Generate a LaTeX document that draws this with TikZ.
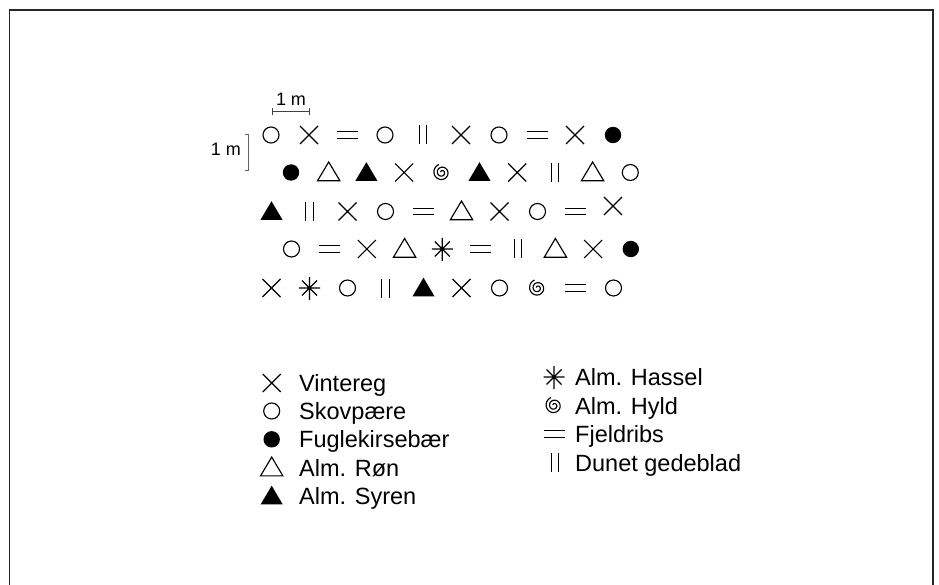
\documentclass[tikz,border=0pt]{standalone}
\usepackage{fontspec}
\setmainfont{Liberation Sans}
\begin{document}
\begin{tikzpicture}[x=1pt,y=-1pt,
  sym/.style={line width=1.15pt, line cap=butt},
  lbl/.style={font=\fontsize{23.5}{28}\selectfont, anchor=base west, inner sep=0pt},
  scl/.style={font=\fontsize{18}{21}\selectfont, inner sep=0pt},
  bar/.style={line width=1pt, black!75},
  frame/.style={line width=1.5pt, black!85},
  pics/kryds/.style={code={\draw[sym] (-9,-9)--(9,9) (-9,9)--(9,-9);}},
  pics/ring/.style={code={\draw[sym] (0,0) circle[radius=8];}},
  pics/prik/.style={code={\fill (0,0) circle[radius=8.2];}},
  pics/trekant/.style={code={\draw[sym, line join=miter] (-11.2,8.3)--(11.2,8.3)--(0,-10.5)--cycle;}},
  pics/fyldtrekant/.style={code={\fill (-11,8.3)--(11,8.3)--(0,-10.3)--cycle;}},
  pics/lig/.style={code={\draw[sym] (-10.5,-3.2)--(10.5,-3.2) (-10.5,3.2)--(10.5,3.2);}},
  pics/streger/.style={code={\draw[sym] (-3.6,-9.5)--(-3.6,9.5) (3.6,-9.5)--(3.6,9.5);}},
  pics/stjerne/.style={code={\draw[sym] (0,-11)--(0,12) (-10.5,0)--(10.5,0) (-7.5,-7.5)--(7.5,7.5) (-7.5,7.5)--(7.5,-7.5);}},
  pics/spiral/.style={code={\draw[line width=1.15pt] plot[domain=0:770,samples=140,smooth] ({(1.2+\x/770*7.3)*cos(\x+200)},{(1.2+\x/770*7.3)*sin(\x+200)});}},
]
\useasboundingbox (0,0) rectangle (939,585);
\draw[frame] (9.5,600)--(9.5,10)--(933,10)--(933,600);

% scale bars
\coordinate (h1) at (272.7,111.7);
\coordinate (h2) at (309.3,111.7);
\draw[bar] (h1)--(h2) ([yshift=-3.5pt]h1)--([yshift=3.5pt]h1) ([yshift=-3.5pt]h2)--([yshift=3.5pt]h2);
\node[scl] (mtop) at (291,99) {1 m};
\coordinate (v1) at (248.5,135);
\coordinate (v2) at (248.5,171);
\draw[bar, black!60] (v1)--(v2) (v1)--([xshift=-4pt]v1) (v2)--([xshift=-4pt]v2);
\node[scl, anchor=east] (mleft) at (241,149) {1 m};

% planting grid
\foreach \s [count=\i from 0] in {ring,kryds,lig,ring,streger,kryds,ring,lig,kryds,prik}
  \pic at ({271+38*\i},135) {\s};
\foreach \s [count=\i from 0] in {prik,trekant,fyldtrekant,kryds,spiral,fyldtrekant,kryds,streger,trekant,ring}
  \pic at ({291+37.7*\i},172.5) {\s};
\foreach \s [count=\i from 0] in {fyldtrekant,streger,kryds,ring,lig,trekant,kryds,ring,lig}
  \pic at ({271.5+38*\i},211.5) {\s};
\pic at (613,206) {kryds};
\foreach \s [count=\i from 0] in {ring,lig,kryds,trekant,stjerne,lig,streger,trekant,kryds,prik}
  \pic at ({291.5+37.7*\i},249) {\s};
\foreach \s [count=\i from 0] in {kryds,stjerne,ring,streger,fyldtrekant,kryds,ring,spiral,lig,ring}
  \pic at ({271.5+38*\i},288) {\s};

% legend, column 1
\pic at (271.7,383) {kryds};
\node[lbl] (l1) at (299,391.5) {Vintereg};
\pic at (271.7,411) {ring};
\node[lbl] (l2) at (299,419.5) {Skovpære};
\pic at (271.7,439.3) {prik};
\node[lbl] (l3) at (299,447.8) {Fuglekirsebær};
\pic at (271.7,467.6) {trekant};
\node[lbl] (l4) at (299,476.1) {Alm. Røn};
\pic at (271.7,496) {fyldtrekant};
\node[lbl] (l5) at (299,504.5) {Alm. Syren};

% legend, column 2
\pic at (554,377) {stjerne};
\node[lbl] (r1) at (575,385.5) {Alm. Hassel};
\pic at (554,405.5) {spiral};
\node[lbl] (r2) at (575,414) {Alm. Hyld};
\pic at (554,434) {lig};
\node[lbl] (r3) at (575,442.5) {Fjeldribs};
\pic at (555,462.5) {streger};
\node[lbl] (r4) at (575,471) {Dunet gedeblad};
\end{tikzpicture}
\end{document}
